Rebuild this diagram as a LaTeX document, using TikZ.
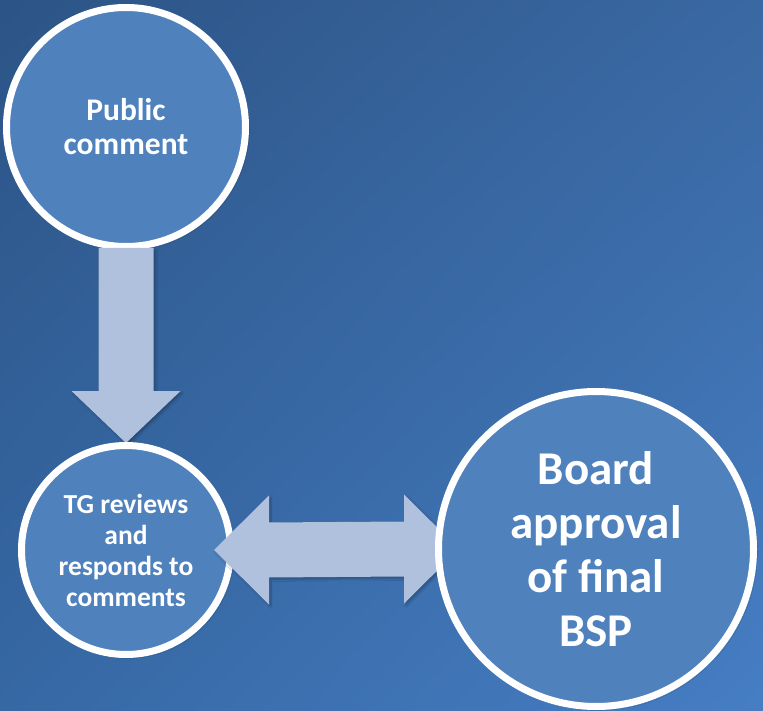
\documentclass[tikz,border=0pt]{standalone}
\usepackage{fontspec}
\setmainfont{Carlito}
\usetikzlibrary{calc,shadings,shadows.blur}

\definecolor{bgTL}{RGB}{44,84,134}
\definecolor{bgTR}{RGB}{58,104,162}
\definecolor{bgBL}{RGB}{54,104,164}
\definecolor{bgBR}{RGB}{70,126,196}
\definecolor{discfill}{RGB}{79,129,189}
\definecolor{arrowfill}{RGB}{176,193,222}

\tikzset{
  stage/.style={circle, draw=white, line width=7pt, fill=discfill,
    inner sep=0pt, text=white, font=\bfseries, align=center,
    blur shadow={shadow xshift=2pt, shadow yshift=-2pt, shadow opacity=25, shadow blur steps=6}},
  blockarrow/.style={fill=arrowfill, draw=none,
    blur shadow={shadow xshift=2pt, shadow yshift=-2pt, shadow opacity=25, shadow blur steps=6}}
}

\begin{document}
\begin{tikzpicture}[x=1pt, y=-1pt]
  % background
  \shade[upper left=bgTL, upper right=bgTR, lower left=bgBL, lower right=bgBR]
    (0,0) rectangle (763,711);
  \useasboundingbox (0,0) rectangle (763,711);

  % first stage
  \node[stage, minimum size=239pt,
        font=\bfseries\fontsize{31.5}{34}\selectfont] (pc) at (126,127)
    {Public\\comment};

  % second stage position (drawn after the arrow)
  \coordinate (tgc) at (126,550);

  % downward block arrow
  \coordinate (dA) at ($(pc.south)+(0,-2)$);
  \coordinate (dB) at ($(tgc)+(0,-107)$);
  \fill[blockarrow]
    ($(dA)+(-27.5,0)$) -- ($(dA)+(27.5,0)$) -- ($(dB)+(27.5,-52)$)
    -- ($(dB)+(54.5,-52)$) -- (dB) -- ($(dB)+(-54.5,-52)$)
    -- ($(dB)+(-27.5,-52)$) -- cycle;

  % second stage
  \node[stage, minimum size=209pt,
        font=\bfseries\fontsize{27.5}{31}\selectfont] (tg) at (tgc)
    {TG reviews\\and\\responds to\\comments};

  % third stage position
  \coordinate (bdc) at (596,549);

  % two-headed block arrow between the second and third stages
  \coordinate (hL) at ($(tg.east)+(-20,0)$);
  \coordinate (hR) at ($(bdc)+(-137,0)$);
  \fill[blockarrow]
    (hL) -- ($(hL)+(55,-54.5)$) -- ($(hL)+(55,-27.5)$)
    -- ($(hR)+(-55,-27.5)$) -- ($(hR)+(-55,-54.5)$) -- (hR)
    -- ($(hR)+(-55,54.5)$) -- ($(hR)+(-55,27.5)$)
    -- ($(hL)+(55,27.5)$) -- ($(hL)+(55,54.5)$) -- cycle;

  % third stage
  \node[stage, minimum size=315pt,
        font=\bfseries\fontsize{47}{54}\selectfont] (bd) at (bdc)
    {Board\\approval\\of final\\BSP};
\end{tikzpicture}
\end{document}
